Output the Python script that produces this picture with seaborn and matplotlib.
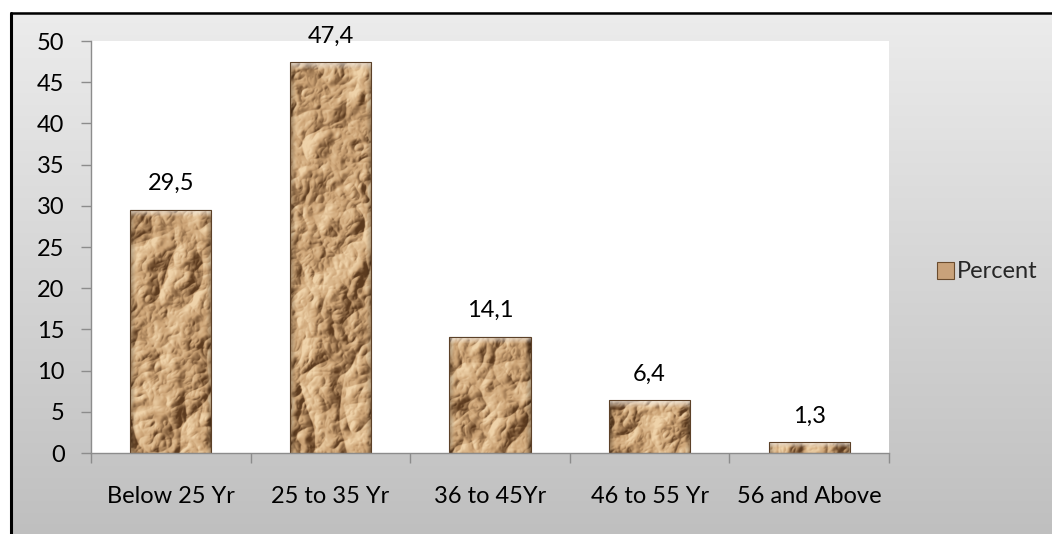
import numpy as np
import matplotlib
matplotlib.use("Agg")
import matplotlib.pyplot as plt
import seaborn as sns
from matplotlib.patches import Patch
from matplotlib.lines import Line2D

# Age distribution of respondents (percent)
categories = ["Below 25 Yr", "25 to 35 Yr", "36 to 45Yr", "46 to 55 Yr", "56 and Above"]
percent = [29.5, 47.4, 14.1, 6.4, 1.3]
yticks = [0, 5, 10, 15, 20, 25, 30, 35, 40, 45, 50]
series_name = "Percent"

sns.set_theme(style="white")
plt.rcParams["font.family"] = ["Lato", "DejaVu Sans"]
FS = 17

W, H, DPI = 1052, 534, 100
fig = plt.figure(figsize=(W / DPI, H / DPI), dpi=DPI)
fig.patch.set_facecolor("white")

# chart-area background: vertical grey gradient inside a black frame
bg = fig.add_axes([10 / W, 0, 1 - 10 / W, 1 - 12 / H])
bg.set_axis_off()
grad = np.linspace(0.925, 0.75, 256)[:, None]
bg.imshow(np.dstack([grad, grad, grad]), aspect="auto", extent=(0, 1, 0, 1),
          interpolation="bilinear")
bg.set_xlim(0, 1)
bg.set_ylim(0, 1)
fig.add_artist(Line2D([11 / W, 1], [1 - 12.5 / H, 1 - 12.5 / H],
                      transform=fig.transFigure, color="black", lw=1.8))
fig.add_artist(Line2D([11 / W, 11 / W], [0, 1 - 12.5 / H],
                      transform=fig.transFigure, color="black", lw=2.2))

left, right, top, bottom = 91, 889, 41, 453
ax = fig.add_axes([left / W, 1 - bottom / H, (right - left) / W, (bottom - top) / H])
ax.set_facecolor("white")

sns.barplot(x=categories, y=percent, ax=ax, width=0.51, color="#c9a27a",
            saturation=1, edgecolor="#5c4128", linewidth=0.8)

ax.set_ylim(0, 50)
ax.set_xlim(-0.5, len(categories) - 0.5)
ax.set_yticks(yticks)
ax.set_yticklabels([str(v) for v in yticks])
ax.set_xticks(range(len(categories)))
ax.set_xticklabels(categories)
ax.set_xlabel("")
ax.set_ylabel("")

# crumpled-paper texture for the bars
rng = np.random.default_rng(11)


def blur(a, s):
    ky = np.fft.fftfreq(a.shape[0])[:, None]
    kx = np.fft.fftfreq(a.shape[1])[None, :]
    g = np.exp(-2 * (np.pi * s) ** 2 * (kx ** 2 + ky ** 2))
    return np.real(np.fft.ifft2(np.fft.fft2(a) * g))


def paper(h, w):
    field = np.zeros((h, w))
    for s, amp in [(30, 1.0), (15, 0.6), (7, 0.3), (3, 0.08)]:
        n = blur(rng.standard_normal((h, w)), s)
        n /= n.std() + 1e-9
        field += amp * (1 - np.abs(n))
    gy, gx = np.gradient(field)
    shade = -(gx * 0.9 + gy * 0.5)
    shade = shade / (np.percentile(np.abs(shade), 96) + 1e-9)
    shade = np.clip(shade, -1, 1)
    base = np.array([0.80, 0.64, 0.46])
    light = np.array([0.94, 0.83, 0.67])
    dark = np.array([0.36, 0.23, 0.12])
    t = shade[..., None]
    img = np.where(t > 0, base + (light - base) * t, base + (base - dark) * t)
    # darker bevel near the sides
    xx = np.linspace(0, 1, w)[None, :]
    edge = np.minimum(xx, 1 - xx)
    fall = np.clip(edge / 0.07, 0, 1)[..., None]
    img = img * (0.72 + 0.28 * fall)
    return np.clip(img, 0, 1)


px_per_unit = (bottom - top) / 50.0
for p in ax.patches:
    x0, w = p.get_x(), p.get_width()
    h = p.get_height()
    hp = max(int(h * px_per_unit * 2), 8)
    wp = int(w * (right - left) / len(categories) * 2)
    tex = paper(hp, wp)
    im = ax.imshow(tex, extent=(x0, x0 + w, 0, h), aspect="auto",
                   interpolation="bilinear", zorder=p.get_zorder() + 0.1)
    im.set_clip_path(p)
    # top bevel highlight
    top_h = min(0.9, h * 0.5)
    hl = np.ones((20, 4, 4))
    hl[..., :3] = 0.96
    hl[..., 3] = np.linspace(0.7, 0, 20)[:, None]
    ax.imshow(hl, extent=(x0, x0 + w, h - top_h, h), aspect="auto",
              interpolation="bilinear", zorder=p.get_zorder() + 0.2)
    p.set_zorder(p.get_zorder() + 0.3)
    p.set_facecolor("none")

ax.set_xlim(-0.5, len(categories) - 0.5)
ax.set_ylim(0, 50)

# value labels with decimal comma
for i, v in enumerate(percent):
    ax.annotate(f"{v:.1f}".replace(".", ","), xy=(i, v), xytext=(0, 19),
                textcoords="offset points", ha="center", va="center",
                fontsize=FS, color="black")

for side in ["top", "right"]:
    ax.spines[side].set_visible(False)
for side in ["left", "bottom"]:
    ax.spines[side].set_color("#8c8c8c")
    ax.spines[side].set_linewidth(1.0)

ax.tick_params(axis="y", which="both", left=True, length=7, width=1,
               color="#8c8c8c", labelsize=FS, pad=12, labelcolor="black")
ax.tick_params(axis="x", which="major", bottom=False, labelsize=FS, pad=18,
               labelcolor="black")
ax.set_xticks([i - 0.5 for i in range(len(categories) + 1)], minor=True)
ax.tick_params(axis="x", which="minor", bottom=True, length=7, width=1,
               color="#8c8c8c")

# legend on the right
handle = Patch(facecolor="#c9a27a", edgecolor="#6b4c2e", linewidth=0.8)
fig.legend([handle], [series_name], loc="center left",
           bbox_to_anchor=(937 / W, 1 - 272 / H), frameon=False,
           borderpad=0, borderaxespad=0,
           fontsize=FS, handlelength=0.7, handleheight=0.7, handletextpad=0.15)

fig.savefig("out.png", dpi=DPI)
